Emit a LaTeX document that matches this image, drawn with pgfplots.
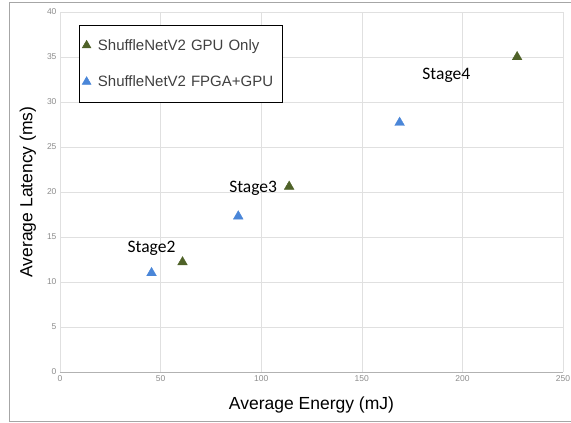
\documentclass[border=0pt]{standalone}
\usepackage{fontspec}
\setmainfont{Liberation Sans}
\newfontfamily\calibri{Carlito}
\usepackage{pgfplots}
\pgfplotsset{compat=1.18}
\definecolor{gpuonly}{HTML}{4F6228}
\definecolor{fpgagpu}{HTML}{4A86D8}
\definecolor{gridc}{HTML}{E0E0E0}

\begin{document}
\begin{tikzpicture}[x=1pt,y=1pt]
\useasboundingbox (0,0) rectangle (571,423);
\draw[gray!70, line width=0.8pt] (9,2) rectangle (575,421);
\begin{axis}[
    scale only axis,
    width=503pt, height=360pt,
    at={(60pt,51pt)}, anchor=south west,
    xmin=0, xmax=250, ymin=0, ymax=40,
    xtick={0,50,...,250}, ytick={0,5,...,40},
    axis x line*=bottom, axis y line*=left,
    x axis line style={draw=gray!60, -},
    y axis line style={draw=none},
    major tick style={draw=none},
    grid=major, major grid style={gridc, line width=0.6pt},
    ticklabel style={font=\fontsize{8.5}{10}\selectfont, text=gray!90},
    /pgf/number format/assume math mode=true,
    xlabel={Average Energy (mJ)}, ylabel={Average Latency (ms)},
    label style={font=\fontsize{17.5}{20}\selectfont},
    xlabel style={at={(axis description cs:0.5,-0.0917)}, anchor=center},
    ylabel style={at={(axis description cs:-0.064,0.5)}, anchor=center},
    legend style={at={(rel axis cs:0.0378,0.964)}, anchor=north west,
        draw=black, line width=0.6pt, font=\fontsize{15}{17}\selectfont,
        text=black!75, inner xsep=2pt, inner ysep=12pt, row sep=20pt,
        text width=180pt},
    legend cell align=left,
    legend image code/.code={\path (-5pt,0) (9pt,0);
        \draw[mark size=5pt, mark=triangle*, #1] plot coordinates {(0,0)};},
]
\addplot[only marks, mark=triangle*, mark size=5.6pt, color=gpuonly] coordinates {
    (60.9,12.2) (113.9,20.6) (227.2,35.0)
};
\addlegendentry{ShuffleNetV2 GPU Only}
\addplot[only marks, mark=triangle*, mark size=5.6pt, color=fpgagpu] coordinates {
    (45.5,11.0) (88.6,17.3) (168.8,27.7)
};
\addlegendentry{ShuffleNetV2 FPGA+GPU}
\node[font=\calibri\fontsize{17.5}{20}\selectfont] at (axis cs:45.5,13.7) {Stage2};
\node[font=\calibri\fontsize{17.5}{20}\selectfont] at (axis cs:96,20.4) {Stage3};
\node[font=\calibri\fontsize{17.5}{20}\selectfont] at (axis cs:192,33.0) {Stage4};
\end{axis}
\end{tikzpicture}
\end{document}
